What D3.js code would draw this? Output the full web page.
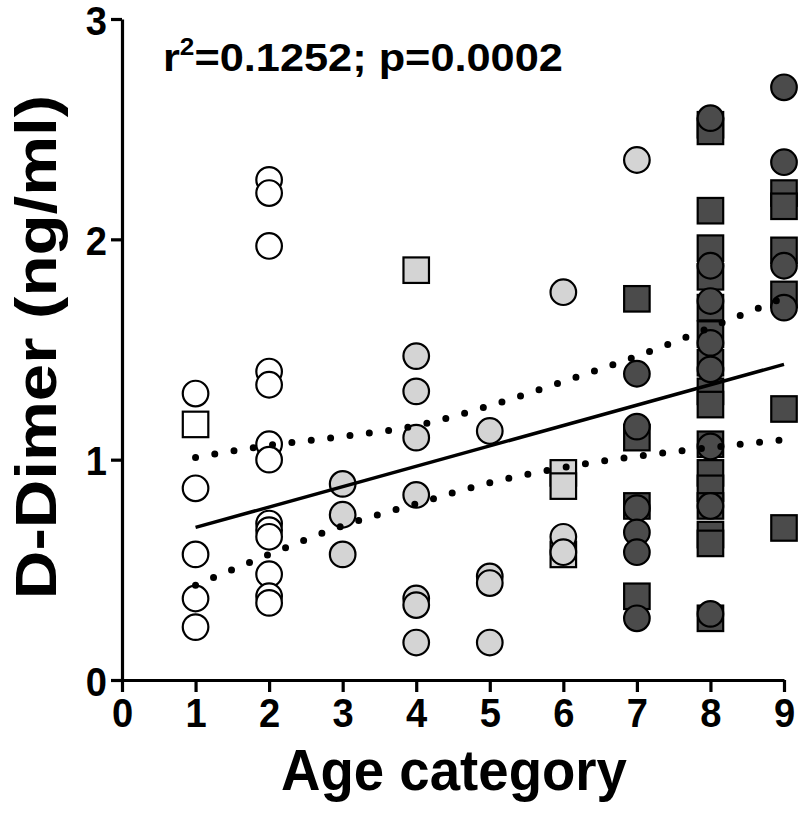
<!DOCTYPE html>
<html>
<head>
<meta charset="utf-8">
<script src="https://cdn.jsdelivr.net/npm/d3@7"></script>
<style>
  html, body { margin: 0; padding: 0; background: #ffffff; }
  svg { display: block; }
  text { font-family: "Liberation Sans", Arial, Helvetica, sans-serif; font-weight: bold; fill: #000; }
</style>
</head>
<body>
<svg id="chart" width="800" height="821"></svg>
<script>
// ---------- data ----------
const ageTicks = [0, 1, 2, 3, 4, 5, 6, 7, 8, 9];
const dimerTicks = [0, 1, 2, 3];

// [age category, D-Dimer ng/ml]
const whiteCircles = [[1,1.30],[1,0.87],[1,0.57],[1,0.37],[1,0.24],
  [2,2.27],[2,2.21],[2,1.97],[2,1.40],[2,1.34],[2,1.07],[2,1.00],[2,0.71],[2,0.68],[2,0.65],[2,0.48],[2,0.38],[2,0.35]];
const whiteSquares = [[1,1.16]];
const lightCircles = [[3,0.89],[3,0.75],[3,0.57],
  [4,1.47],[4,1.31],[4,1.10],[4,0.84],[4,0.37],[4,0.34],[4,0.17],
  [5,1.13],[5,0.47],[5,0.44],[5,0.17],
  [6,1.76],[6,0.65],[6,0.58],[7,2.36]];
const lightSquares = [[4,1.86],[6,0.94],[6,0.88],[6,0.57]];
const darkSquares = [[7,1.73],[7,1.10],[7,0.79],[7,0.38],
  [8,2.52],[8,2.49],[8,2.13],[8,1.96],[8,1.83],[8,1.69],[8,1.57],[8,1.44],[8,1.31],[8,1.25],
  [8,1.07],[8,0.94],[8,0.87],[8,0.79],[8,0.66],[8,0.62],[8,0.28],
  [9,2.21],[9,2.15],[9,1.95],[9,1.75],[9,1.23],[9,0.69]];
const darkCircles = [[7,1.39],[7,1.15],[7,0.78],[7,0.67],[7,0.58],[7,0.28],
  [8,2.55],[8,1.88],[8,1.72],[8,1.53],[8,1.41],[8,1.06],[8,0.79],[8,0.30],
  [9,2.69],[9,2.35],[9,1.88],[9,1.69]];

// linear fit and its 95% confidence band
const fitIntercept = 0.600;
const fitSlope = 0.0925;
const fitRange = [1, 9];
const bandAge   = [1, 2, 3, 4, 5, 6, 7, 8, 9];
const bandUpper = [1.01, 1.065, 1.105, 1.155, 1.245, 1.355, 1.47, 1.60, 1.735];
const bandLower = [0.43, 0.57, 0.70, 0.80, 0.895, 0.965, 1.015, 1.055, 1.09];

const statText = { r2: "0.1252", p: "0.0002" };
const xTitle = "Age category";
const yTitle = "D-Dimer (ng/ml)";

// ---------- drawing ----------
const svg = d3.select("#chart");
const x = d3.scaleLinear().domain([0, 9]).range([122, 784]);
const y = d3.scaleLinear().domain([0, 3]).range([680, 19]);

const fills = { white: "#ffffff", light: "#d4d4d4", dark: "#4b4b4b" };
const R = 12.8, S = 25.5;

function drawSquares(data, fill) {
  svg.append("g").selectAll("rect").data(data).join("rect")
    .attr("x", d => x(d[0]) - S / 2).attr("y", d => y(d[1]) - S / 2)
    .attr("width", S).attr("height", S)
    .attr("fill", fill).attr("stroke", "#000").attr("stroke-width", 2.2);
}
function drawCircles(data, fill) {
  svg.append("g").selectAll("circle").data(data).join("circle")
    .attr("cx", d => x(d[0])).attr("cy", d => y(d[1])).attr("r", R)
    .attr("fill", fill).attr("stroke", "#000").attr("stroke-width", 2.2);
}
drawSquares(whiteSquares, fills.white);
drawSquares(lightSquares, fills.light);
drawSquares(darkSquares, fills.dark);
drawCircles(whiteCircles, fills.white);
drawCircles(lightCircles, fills.light);
drawCircles(darkCircles, fills.dark);

// fit line
svg.append("line")
  .attr("x1", x(fitRange[0])).attr("y1", y(fitIntercept + fitSlope * fitRange[0]))
  .attr("x2", x(fitRange[1])).attr("y2", y(fitIntercept + fitSlope * fitRange[1]))
  .attr("stroke", "#000").attr("stroke-width", 3.5);

// confidence band (dotted)
const bandLine = d3.line().x(d => x(d[0])).y(d => y(d[1])).curve(d3.curveMonotoneX);
[bandUpper, bandLower].forEach(arr => {
  svg.append("path")
    .attr("d", bandLine(bandAge.map((a, i) => [a, arr[i]])))
    .attr("fill", "none").attr("stroke", "#000").attr("stroke-width", 7)
    .attr("stroke-linecap", "round").attr("stroke-dasharray", "0,19.5");
});

// axes
const xAxis = svg.append("g").attr("transform", "translate(0,680)")
  .call(d3.axisBottom(x).tickValues(ageTicks).tickSize(12).tickSizeOuter(0).tickFormat(d3.format("d")));
const yAxis = svg.append("g").attr("transform", "translate(122,0)")
  .call(d3.axisLeft(y).tickValues(dimerTicks).tickSize(11).tickSizeOuter(0).tickFormat(d3.format("d")));
[xAxis, yAxis].forEach(g => {
  g.select(".domain").attr("stroke", "#000").attr("stroke-width", 3.2);
  g.selectAll(".tick line").attr("stroke", "#000").attr("stroke-width", 3.2);
  g.selectAll("text").attr("font-family", null).attr("font-size", 36).attr("fill", "#000");
});
xAxis.selectAll(".tick text")
  .attr("y", 0).attr("dy", null)
  .attr("transform", "translate(0,47) scale(1.06,1.12)");
yAxis.selectAll(".tick text")
  .attr("x", 0).attr("dy", null)
  .attr("transform", "translate(-15,15) scale(1.06,1.12)");

// stat annotation
const st = svg.append("text").attr("transform", "translate(163,71) scale(1.14,1.04)")
  .attr("font-size", 38);
st.append("tspan").text("r");
st.append("tspan").attr("font-size", 23).attr("dy", -15).text("2");
st.append("tspan").attr("dy", 15).text(`=${statText.r2}; p=${statText.p}`);

// axis titles
svg.append("text").attr("text-anchor", "middle").attr("font-size", 52)
  .attr("transform", "translate(454,790) scale(1.05,1.12)").text(xTitle);
svg.append("text").attr("text-anchor", "middle").attr("font-size", 57)
  .attr("transform", "translate(56,347) rotate(-90) scale(1.18,1)").text(yTitle);
</script>
</body>
</html>
